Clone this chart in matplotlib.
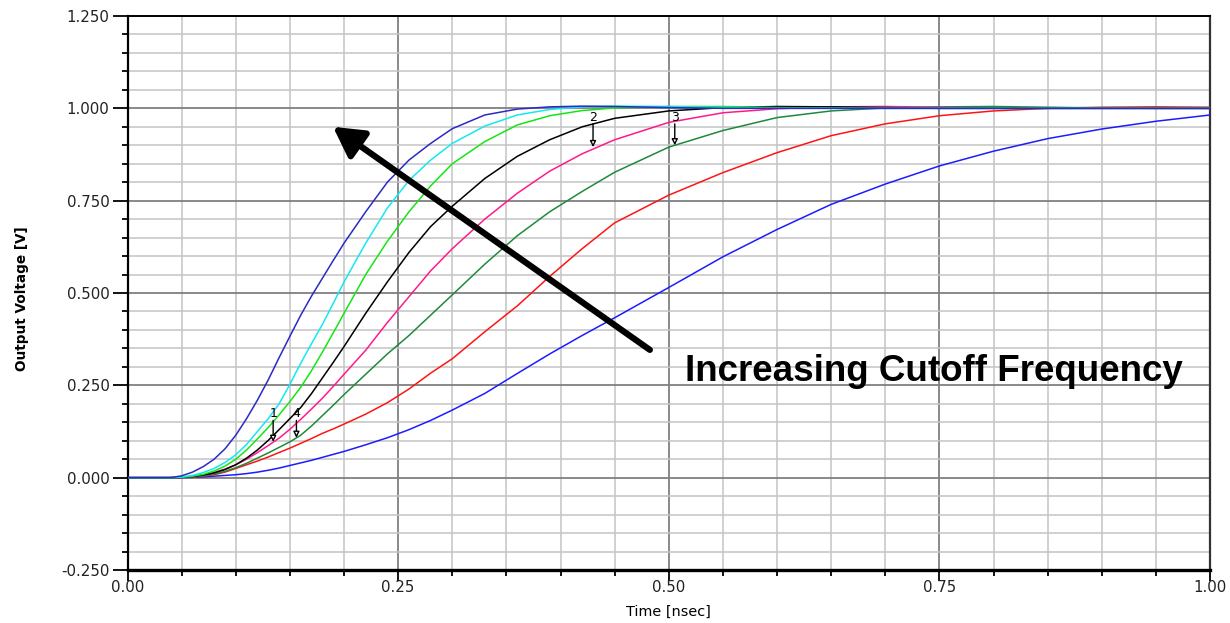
import matplotlib
matplotlib.use("Agg")
import matplotlib.pyplot as plt
from matplotlib.ticker import MultipleLocator, FormatStrFormatter

# time axis [nsec] shared by all traces
T = [0.00, 0.04, 0.05, 0.06, 0.07, 0.08, 0.09, 0.10, 0.11, 0.12,
     0.13, 0.14, 0.15, 0.16, 0.17, 0.18, 0.19, 0.20,
     0.22, 0.24, 0.26, 0.28, 0.30, 0.33, 0.36, 0.39, 0.42, 0.45,
     0.50, 0.55, 0.60, 0.65, 0.70, 0.75, 0.80, 0.85, 0.90, 0.95, 1.00]

v_blue_fast = [0, 0, 0.005, 0.015, 0.03, 0.05, 0.078, 0.115, 0.16, 0.21,
               0.265, 0.325, 0.383, 0.44, 0.492, 0.54, 0.588, 0.635,
               0.72, 0.80, 0.86, 0.905, 0.945, 0.982, 0.998, 1.004, 1.006, 1.005,
               1.002, 1.0, 1.0, 1.0, 1.0, 1.0, 1.0, 1.0, 1.0, 1.0, 1.0]
v_cyan = [0, 0, 0.002, 0.006, 0.014, 0.025, 0.041, 0.062, 0.09, 0.125,
          0.16, 0.20, 0.253, 0.31, 0.363, 0.415, 0.472, 0.53,
          0.635, 0.73, 0.805, 0.86, 0.905, 0.952, 0.982, 0.997, 1.004, 1.006,
          1.005, 1.002, 1.0, 1.0, 1.0, 1.0, 1.0, 1.0, 1.0, 1.0, 1.0]
v_green = [0, 0, 0.001, 0.004, 0.009, 0.018, 0.031, 0.05, 0.075, 0.105,
           0.136, 0.17, 0.206, 0.245, 0.29, 0.34, 0.392, 0.445,
           0.55, 0.64, 0.72, 0.79, 0.85, 0.91, 0.955, 0.98, 0.994, 1.001,
           1.005, 1.005, 1.002, 1.001, 1.0, 1.0, 1.0, 1.0, 1.0, 1.0, 1.0]
v_black = [0, 0, 0.001, 0.003, 0.007, 0.013, 0.022, 0.035, 0.053, 0.075,
           0.101, 0.13, 0.16, 0.19, 0.228, 0.27, 0.312, 0.355,
           0.445, 0.53, 0.61, 0.68, 0.735, 0.81, 0.87, 0.915, 0.95, 0.973,
           0.993, 1.002, 1.005, 1.004, 1.002, 1.0, 1.0, 1.0, 1.0, 1.0, 1.0]
v_pink = [0, 0, 0.0005, 0.002, 0.007, 0.014, 0.023, 0.035, 0.05, 0.068,
          0.087, 0.107, 0.131, 0.158, 0.186, 0.215, 0.247, 0.28,
          0.345, 0.42, 0.49, 0.56, 0.62, 0.70, 0.77, 0.83, 0.877, 0.915,
          0.962, 0.988, 0.999, 1.004, 1.005, 1.003, 1.001, 1.0, 1.0, 1.0, 1.0]
v_dkgreen = [0, 0, 0.0005, 0.002, 0.005, 0.01, 0.017, 0.027, 0.039, 0.053,
             0.067, 0.082, 0.097, 0.115, 0.14, 0.168, 0.196, 0.225,
             0.28, 0.335, 0.385, 0.44, 0.495, 0.578, 0.655, 0.72, 0.775, 0.827,
             0.895, 0.94, 0.975, 0.993, 1.001, 1.004, 1.005, 1.003, 1.001, 1.0, 1.0]
v_red = [0, 0, 0.0005, 0.002, 0.004, 0.008, 0.015, 0.025, 0.035, 0.045,
         0.056, 0.068, 0.08, 0.093, 0.106, 0.12, 0.132, 0.145,
         0.172, 0.203, 0.24, 0.283, 0.322, 0.395, 0.465, 0.545, 0.62, 0.69,
         0.765, 0.826, 0.88, 0.926, 0.958, 0.98, 0.993, 1.0, 1.003, 1.004, 1.003]
v_blue_slow = [0, 0, 0, 0.001, 0.002, 0.004, 0.006, 0.008, 0.011, 0.015,
               0.02, 0.026, 0.033, 0.04, 0.047, 0.055, 0.063, 0.071,
               0.089, 0.108, 0.13, 0.155, 0.183, 0.228, 0.282, 0.335, 0.385, 0.433,
               0.515, 0.598, 0.672, 0.74, 0.795, 0.844, 0.884, 0.918, 0.944, 0.965, 0.982]

series = [v_blue_slow, v_red, v_dkgreen, v_pink, v_black, v_green, v_cyan, v_blue_fast]
colors = ["#1c1cff", "#ff1414", "#1f8a3a", "#ff1a8c", "#000000", "#14e614", "#14e8f0", "#2a2ac4"]

# marker annotations: (label, t, tip value, label value)
marker_labels = ["1", "4", "2", "3"]
marker_t = [0.1345, 0.156, 0.430, 0.5055]
marker_tip = [0.097, 0.108, 0.895, 0.900]
marker_top = [0.155, 0.155, 0.958, 0.958]

annotation_text = "Increasing Cutoff Frequency"

fig = plt.figure(figsize=(12.3, 6.23), dpi=100)
ax = fig.add_axes([0.1037, 0.0851, 0.8801, 0.8892])

for v, c in zip(series, colors):
    ax.plot(T, v, color=c, lw=1.1, zorder=3)

ax.set_xlim(0, 1.0)
ax.set_ylim(-0.25, 1.25)
ax.xaxis.set_major_locator(MultipleLocator(0.25))
ax.xaxis.set_minor_locator(MultipleLocator(0.05))
ax.yaxis.set_major_locator(MultipleLocator(0.25))
ax.yaxis.set_minor_locator(MultipleLocator(0.05))
ax.xaxis.set_major_formatter(FormatStrFormatter("%.2f"))
ax.yaxis.set_major_formatter(FormatStrFormatter("%.3f"))

ax.set_axisbelow(True)
ax.grid(which="minor", color="#c4c4c4", lw=1.1)
ax.grid(which="major", color="#808080", lw=1.3)

ax.tick_params(axis="y", which="major", length=11, width=1.3, pad=2,
               labelsize=10.8, labelcolor="#222222")
ax.tick_params(axis="y", which="minor", length=4, width=1.3)
ax.tick_params(axis="x", which="major", length=8, width=1.3, pad=-1,
               labelsize=10.8, labelcolor="#222222")
ax.tick_params(axis="x", which="minor", length=4, width=1.3)

ax.spines["bottom"].set_linewidth(2.4)
ax.spines["left"].set_linewidth(1.6)
ax.spines["top"].set_linewidth(1.4)
ax.spines["right"].set_linewidth(1.6)
ax.spines["right"].set_color("#333333")

ax.set_xlabel("Time [nsec]", fontsize=10.4, labelpad=7)
fig.text(0.018, 0.52, "Output Voltage [V]", rotation=90, fontsize=9.8,
         fontweight="bold", ha="center", va="center")

# markers
for lab, t, tip, top in zip(marker_labels, marker_t, marker_tip, marker_top):
    ax.annotate("", xy=(t, tip), xytext=(t, top),
                arrowprops=dict(arrowstyle="-|>", fc="white", ec="black", lw=1.0,
                                mutation_scale=9, shrinkA=0, shrinkB=0), zorder=5)
    ax.text(t, top, lab, fontsize=9, ha="center", va="bottom", zorder=5)

# big arrow and text
ax.annotate("", xy=(0.1898, 0.950), xytext=(0.4825, 0.346),
            arrowprops=dict(arrowstyle="-|>,head_length=0.9,head_width=0.5",
                            color="black", lw=4.5, mutation_scale=20,
                            shrinkA=0, shrinkB=0), zorder=6)
ax.text(0.515, 0.262, annotation_text, fontsize=26.5, fontweight="bold",
        family="Liberation Sans", ha="left", va="baseline", zorder=6)

fig.savefig("out.png", dpi=100)
